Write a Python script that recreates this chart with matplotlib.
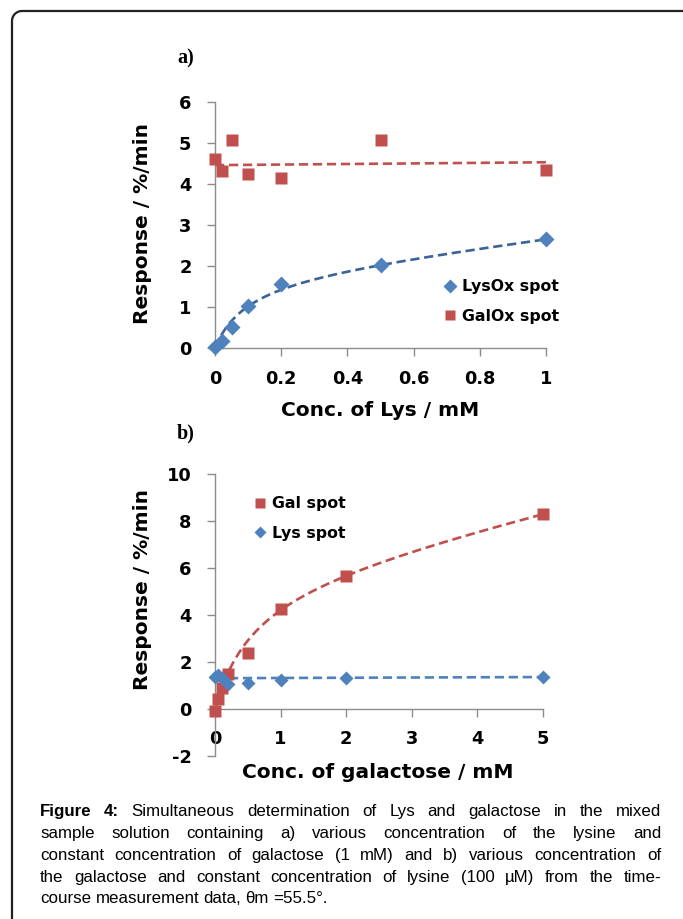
import matplotlib
matplotlib.use('Agg')
import matplotlib.pyplot as plt
import numpy as np

# ---- data ----
# a) various Lys, constant galactose
lys_conc_a = [0, 0.02, 0.05, 0.1, 0.2, 0.5, 1.0]
lysox_resp = [0.02, 0.17, 0.52, 1.02, 1.55, 2.02, 2.65]
galox_resp = [4.60, 4.32, 5.07, 4.24, 4.15, 5.07, 4.33]

# b) various galactose, constant Lys
gal_conc_b = [0, 0.05, 0.1, 0.2, 0.5, 1, 2, 5]
gal_resp = [-0.07, 0.42, 0.89, 1.48, 2.40, 4.26, 5.66, 8.30]
lys_resp = [1.35, 1.45, 1.30, 1.05, 1.10, 1.23, 1.33, 1.35]

# trend lines as drawn (V*x/(K+x) + m*x, or intercept + slope*x)
lysox_fit = (1.835, 0.10, 0.982)
galox_fit = (4.46, 0.07)
gal_fit = (5.7, 0.6, 0.64)
lys_fit = (1.31, 0.01)

caption = [
    "Figure 4: Simultaneous determination of Lys and galactose in the mixed",
    "sample solution containing a) various concentration of the lysine and",
    "constant concentration of galactose (1 mM) and b) various concentration of",
    "the galactose and constant concentration of lysine (100 µM) from the time-",
    "course measurement data, θm =55.5°.",
]

blue = '#4F81BD'
blue_dk = '#3B6398'
red = '#C0504D'
axcol = '#8C8C8C'

plt.rcParams['font.family'] = ['DejaVu Sans']
plt.rcParams['font.weight'] = 'bold'
plt.rcParams['axes.unicode_minus'] = False

W, H = 683, 919
fig = plt.figure(figsize=(W / 100, H / 100), dpi=100)

bg = fig.add_axes([0, 0, 1, 1])
bg.set_xlim(0, W)
bg.set_ylim(H, 0)
bg.axis('off')

# border with rounded top-left corner
r = 10
t = np.linspace(np.pi, 1.5 * np.pi, 20)
bx = np.concatenate([[12], 12 + r + r * np.cos(t), [W + 5]])
by = np.concatenate([[H + 5], 11 + r + r * np.sin(t), [11]])
bg.plot(bx, by, color='#222222', lw=1.6, clip_on=False)


def px_axes(x0, x1, ytop, ybot):
    return fig.add_axes([x0 / W, 1 - ybot / H, (x1 - x0) / W, (ybot - ytop) / H])


def style(ax):
    for s in ['top', 'right']:
        ax.spines[s].set_visible(False)
    for s in ['left', 'bottom']:
        ax.spines[s].set_color(axcol)
        ax.spines[s].set_linewidth(1.0)
    ax.tick_params(colors=axcol, labelcolor='black', labelsize=12.8,
                   length=6, width=1.0, direction='out')
    ax.tick_params(axis='y', pad=11)
    ax.tick_params(axis='x', pad=10)
    ax.patch.set_alpha(0)


# ---- panel a ----
ax1 = px_axes(215, 546, 102, 348)
style(ax1)
ax1.set_xlim(0, 1)
ax1.set_ylim(0, 6)
ax1.set_xticks([0, 0.2, 0.4, 0.6, 0.8, 1])
ax1.set_xticklabels(['0', '0.2', '0.4', '0.6', '0.8', '1'])
ax1.set_yticks(range(0, 7))

xa = np.linspace(0, 1, 300)
V, K, m = lysox_fit
ax1.plot(xa, V * xa / (K + xa) + m * xa, ls=(0, (3.5, 1.8)), color=blue_dk, lw=1.9)
ax1.plot(xa, galox_fit[0] + galox_fit[1] * xa, ls=(0, (3.5, 1.8)), color=red, lw=1.9)
ax1.plot(lys_conc_a, lysox_resp, 'D', color=blue, ms=8.5, mec='none',
         clip_on=False, label='LysOx spot', zorder=3)
ax1.plot(lys_conc_a, galox_resp, 's', color=red, ms=8, mec='none',
         clip_on=False, label='GalOx spot', zorder=3)
ax1.legend(loc='upper left', bbox_to_anchor=(443 / W, 1 - 279 / H),
           bbox_transform=fig.transFigure, frameon=False, fontsize=11.3,
           handlelength=0.9, handletextpad=0.3, labelspacing=0.95,
           borderpad=0, borderaxespad=0, markerscale=0.85)

# ---- panel b ----
ax2 = px_axes(215, 543, 474, 756)
style(ax2)
ax2.set_xlim(0, 5)
ax2.set_ylim(-2, 10)
ax2.spines['bottom'].set_position(('data', 0))
ax2.set_xticks(range(0, 6))
ax2.set_yticks(range(-2, 11, 2))
ax2.tick_params(axis='x', pad=9)

xb = np.linspace(0, 5, 400)
V, K, m = gal_fit
ax2.plot(xb, V * xb / (K + xb) + m * xb, ls=(0, (3.5, 1.8)), color=red, lw=1.9)
ax2.plot(xb, lys_fit[0] + lys_fit[1] * xb, ls=(0, (3.5, 1.8)), color=blue, lw=1.9)
ax2.plot(gal_conc_b, gal_resp, 's', color=red, ms=8, mec='none',
         clip_on=False, label='Gal spot', zorder=3)
ax2.plot(gal_conc_b, lys_resp, 'D', color=blue, ms=7, mec='none',
         clip_on=False, label='Lys spot', zorder=3)
ax2.legend(loc='upper left', bbox_to_anchor=(253 / W, 1 - 496 / H),
           bbox_transform=fig.transFigure, frameon=False, fontsize=11.3,
           handlelength=0.9, handletextpad=0.3, labelspacing=0.95,
           borderpad=0, borderaxespad=0, markerscale=0.85)

# ---- labels ----
bg.text(143, 223, 'Response / %/min', rotation=90, ha='center', va='center', fontsize=14.5)
bg.text(143, 590, 'Response / %/min', rotation=90, ha='center', va='center', fontsize=14.5)
bg.text(380, 410, 'Conc. of Lys / mM', ha='center', va='center', fontsize=14.5)
bg.text(378, 772, 'Conc. of galactose / mM', ha='center', va='center', fontsize=14.5)
bg.text(177, 58, 'a)', ha='left', va='center', fontsize=14.5,
        family='Liberation Serif', weight='bold')
bg.text(177, 433, 'b)', ha='left', va='center', fontsize=14.5,
        family='Liberation Serif', weight='bold')

# ---- caption, justified ----
cap_x0, cap_x1 = 40, 661
cap_y = [816, 838, 860, 882, 903]
renderer = fig.canvas.get_renderer()
for i, line in enumerate(caption):
    words = line.split(' ')
    arts = []
    for j, wd in enumerate(words):
        wt = 'bold' if (i == 0 and j < 2) else 'normal'
        arts.append(bg.text(0, cap_y[i], wd, ha='left', va='baseline', fontsize=12.2,
                            family='Liberation Sans', weight=wt))
    widths = [a.get_window_extent(renderer).width for a in arts]
    if i < len(caption) - 1:
        gap = (cap_x1 - cap_x0 - sum(widths)) / (len(words) - 1)
    else:
        gap = 4.3
    x = cap_x0
    for a, w in zip(arts, widths):
        a.set_x(x)
        x += w + gap

fig.savefig('out.png', dpi=100)
